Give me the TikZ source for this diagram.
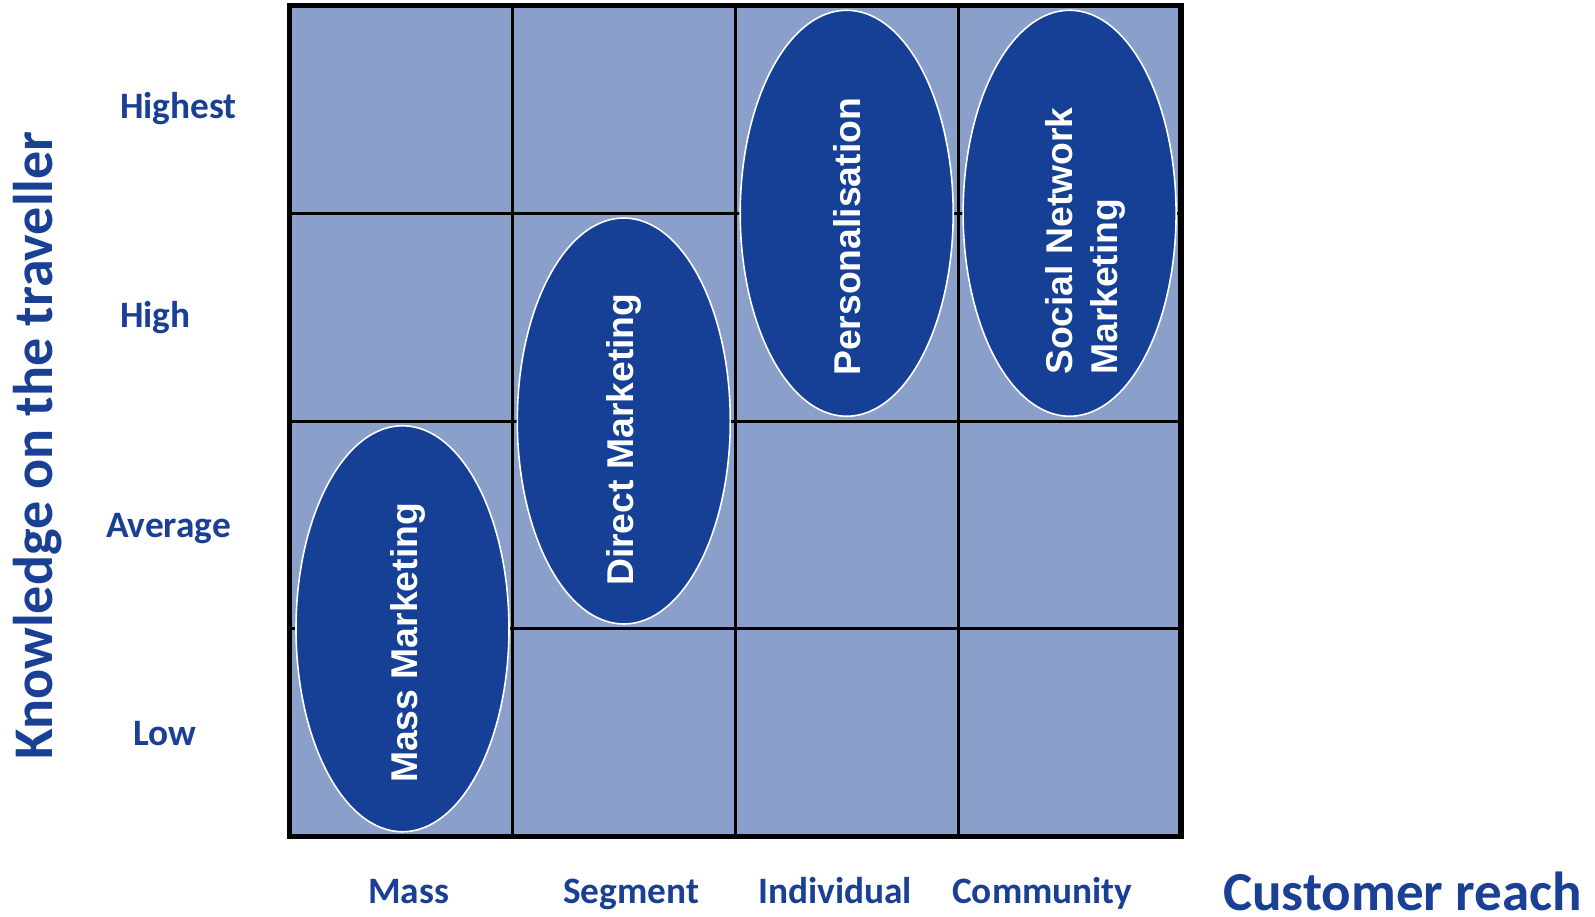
\documentclass[tikz,border=0pt]{standalone}
\usepackage{fontspec}
\setmainfont{Carlito}
\newfontfamily\arialb{Liberation Sans}[BoldFont={Liberation Sans Bold}]
\usetikzlibrary{shapes.geometric}
\definecolor{cellfill}{RGB}{138,159,201}
\definecolor{ellfill}{RGB}{21,64,150}
\definecolor{labblue}{RGB}{26,64,150}
\tikzset{
  gridline/.style={line width=3pt, black},
  outerline/.style={line width=5.5pt, black},
  bubble/.style={ellipse, fill=ellfill, draw=white, line width=1.6pt, minimum width=213pt, minimum height=406pt, inner sep=0pt},
  btext/.style={text=white, font=\arialb\bfseries\fontsize{37.3}{44}\selectfont, rotate=90, anchor=base west, inner sep=0pt},
  lab/.style={text=labblue, font=\bfseries\fontsize{37.3}{44}\selectfont, anchor=base west, inner sep=0pt},
  biglab/.style={text=labblue, font=\bfseries\fontsize{56}{66}\selectfont, anchor=base west, inner sep=0pt, text depth=0pt}
}
\begin{document}
\begin{tikzpicture}[x=1pt,y=-1pt]
\useasboundingbox (0,0) rectangle (1595,916);
% grid
\fill[cellfill] (289.5,5.5) rectangle (1181,836.5);
\foreach \xx in {512.4,735.3,958.1} \draw[gridline] (\xx,5.5) -- (\xx,836.5);
\foreach \yy in {213.25,421,628.75} \draw[gridline] (289.5,\yy) -- (1181,\yy);
\draw[outerline] (289.5,5.5) rectangle (1181,836.5);
% bubbles
\node[bubble] (mm) at (402.5,628.75) {};
\node[bubble] (dm) at (623.8,421) {};
\node[bubble] (pe) at (846.7,213.25) {};
\node[bubble] (sn) at (1069.6,213.25) {};
\node[btext] (mmt) at (417,783) {Mass Marketing};
\node[btext] (dmt) at (633,586) {Direct Marketing};
\node[btext] (pet) at (860,376) {Personalisation};
\node[btext] (snt1) at (1072,375) {Social Network};
\node[btext] (snt2) at (1117,375) {Marketing};
% row labels
\node[lab] (r1) at (120,118) {Highest};
\node[lab] (r2) at (120,327) {High};
\node[lab] (r3) at (106,537) {Average};
\node[lab] (r4) at (133,745) {Low};
% column labels
\node[lab] (c1) at (368,903) {Mass};
\node[lab] (c2) at (563,903) {Segment};
\node[lab] (c3) at (758,903) {Individual};
\node[lab] (c4) at (952,903) {Community};
% axis titles
\node[biglab, font=\bfseries\fontsize{55}{65}\selectfont] (xt) at (1223,910) {Customer reach};
\node[biglab, rotate=90] (yt) at (52,760) {Knowledge on the traveller};
\end{tikzpicture}
\end{document}
